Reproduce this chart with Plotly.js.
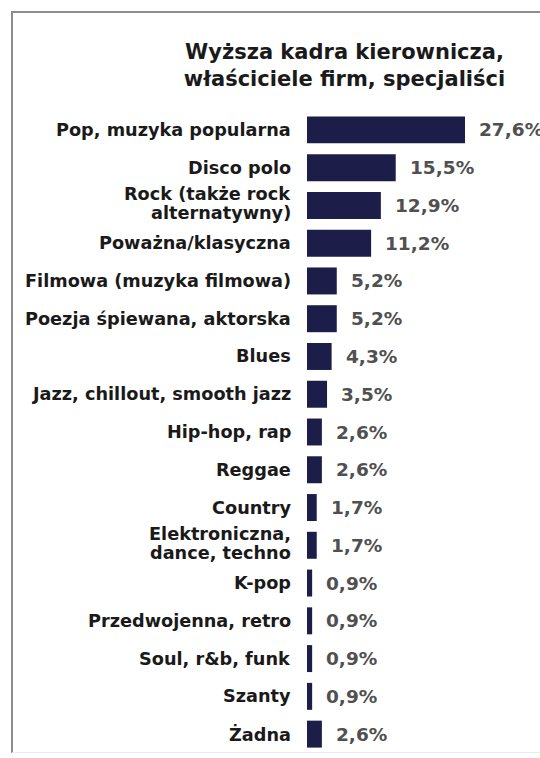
<!DOCTYPE html>
<html>
<head>
<meta charset="utf-8">
<script src="https://cdn.plot.ly/plotly-3.0.1.min.js"></script>
<style>
  html, body { margin: 0; padding: 0; background: #fff; }
  #wrap { position: relative; width: 540px; height: 758px; overflow: hidden; }
  #chart { width: 540px; height: 758px; }
  #frame { position: absolute; left: 11px; top: 11px; right: -5px; height: 739px;
           border-left: 2px solid #8d8d8d; border-top: 2px solid #8d8d8d;
           border-bottom: 1px solid #ececec; pointer-events: none; }
</style>
</head>
<body>
<div id="wrap">
  <div id="chart"></div>
  <div id="frame"></div>
</div>
<script>
const titleText = "Wyższa kadra kierownicza,<br>właściciele firm, specjaliści";

const categories = [
  "Pop, muzyka popularna",
  "Disco polo",
  "Rock (także rock\nalternatywny)",
  "Poważna/klasyczna",
  "Filmowa (muzyka filmowa)",
  "Poezja śpiewana, aktorska",
  "Blues",
  "Jazz, chillout, smooth jazz",
  "Hip-hop, rap",
  "Reggae",
  "Country",
  "Elektroniczna,\ndance, techno",
  "K-pop",
  "Przedwojenna, retro",
  "Soul, r&b, funk",
  "Szanty",
  "Żadna"
];

const values = [27.6, 15.5, 12.9, 11.2, 5.2, 5.2, 4.3, 3.5, 2.6, 2.6, 1.7, 1.7, 0.9, 0.9, 0.9, 0.9, 2.6];

const valueLabels = ["27,6%", "15,5%", "12,9%", "11,2%", "5,2%", "5,2%", "4,3%", "3,5%",
                     "2,6%", "2,6%", "1,7%", "1,7%", "0,9%", "0,9%", "0,9%", "0,9%", "2,6%"];

const BAR_COLOR = "#1c1d48";
const LABEL_FONT = { family: "DejaVu Sans", size: 17.7, color: "#1a1a1a", weight: "bold" };
const VALUE_FONT = { family: "DejaVu Sans", size: 18.5, color: "#505050", weight: "bold" };
const LINE_GAP = 19;

const trace = {
  type: "bar",
  orientation: "h",
  x: values,
  y: categories,
  marker: { color: BAR_COLOR, line: { width: 0 } },
  hoverinfo: "none"
};

const annotations = [];
categories.forEach((cat, i) => {
  const lines = cat.split("\n");
  const n = lines.length;
  lines.forEach((ln, j) => {
    annotations.push({
      x: 0, y: cat, xref: "x", yref: "y",
      text: ln, showarrow: false,
      xanchor: "right", yanchor: "middle",
      xshift: -14, yshift: -((j - (n - 1) / 2) * LINE_GAP) + (n > 1 ? 1.5 : 0),
      font: LABEL_FONT
    });
  });
  annotations.push({
    x: values[i], y: cat, xref: "x", yref: "y",
    text: valueLabels[i], showarrow: false,
    xanchor: "left", yanchor: "middle",
    xshift: 12,
    font: VALUE_FONT
  });
});

const layout = {
  width: 540, height: 758,
  paper_bgcolor: "#ffffff", plot_bgcolor: "#ffffff",
  margin: { l: 306.5, r: 0, t: 111, b: 5 },
  title: {
    text: titleText,
    x: 0.638, xref: "container", xanchor: "center",
    y: 0.922, yref: "container", yanchor: "top",
    font: { family: "DejaVu Sans", size: 21, color: "#1a1a1a", weight: "bold" }
  },
  xaxis: { range: [0, 40.7], visible: false, fixedrange: true },
  yaxis: {
    type: "category", autorange: "reversed",
    showticklabels: false, showgrid: false, zeroline: false, showline: false,
    ticks: "", fixedrange: true
  },
  bargap: 0.286,
  showlegend: false,
  annotations: annotations
};

Plotly.newPlot("chart", [trace], layout, { displayModeBar: false, staticPlot: true });
</script>
</body>
</html>
